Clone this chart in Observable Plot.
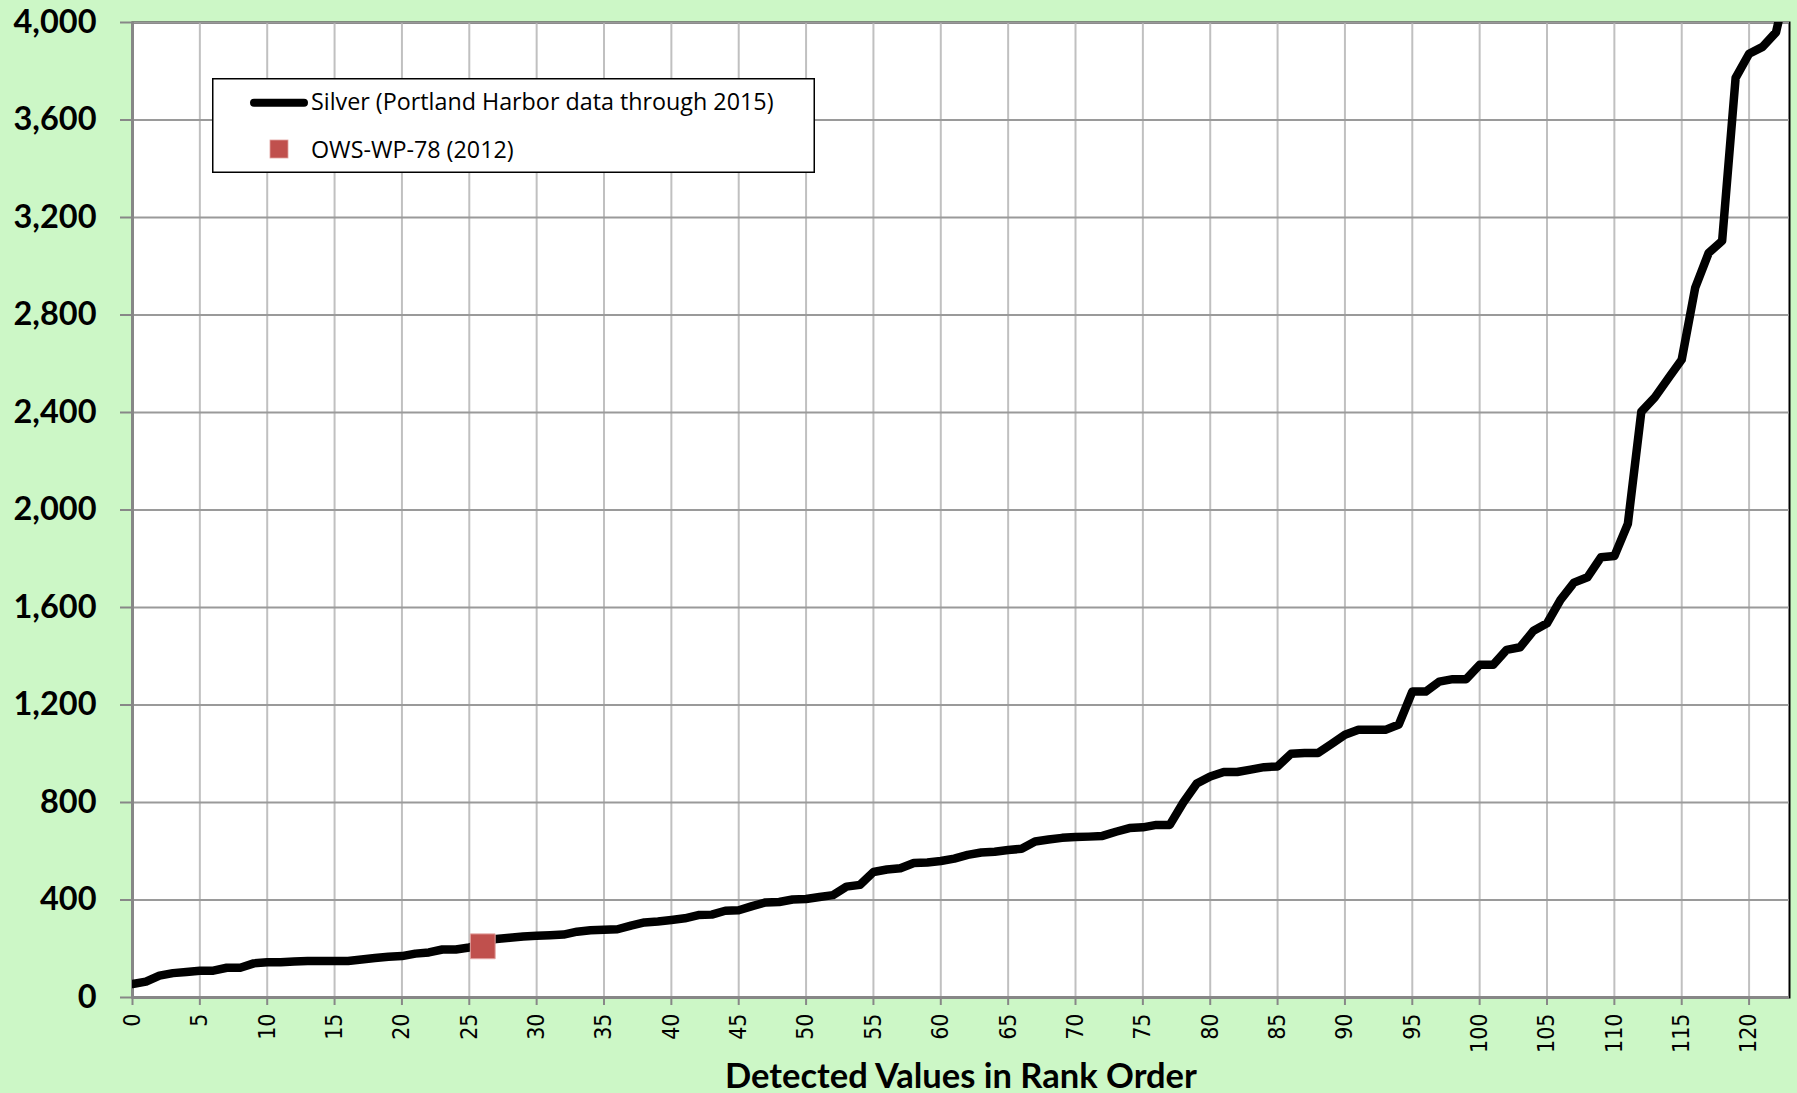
<!DOCTYPE html>
<html>
<head>
<meta charset="utf-8">
<script src="https://cdn.jsdelivr.net/npm/d3@7"></script>
<script src="https://cdn.jsdelivr.net/npm/@observablehq/plot@0.6"></script>
<style>
  html, body { margin: 0; padding: 0; background: #ccf7c6; }
  #wrap { position: relative; width: 1797px; height: 1093px; overflow: hidden; }
  #legend { position: absolute; left: 212px; top: 78px; }
</style>
</head>
<body>
<div id="wrap"></div>
<script>
// Silver concentrations, detected values in rank order (rank 0..123)
const silverValues = [
  55, 65, 90, 100, 105, 110, 110, 122, 122, 140,
  145, 145, 148, 150, 150, 150, 150, 156, 162, 167,
  170, 180, 185, 197, 197, 205, 225, 240, 245, 250,
  253, 255, 258, 270, 276, 278, 280, 295, 308, 312,
  318, 325, 338, 340, 356, 358, 375, 390, 392, 402,
  404, 412, 420, 455, 462, 515, 525, 530, 552, 554,
  560, 570, 585, 595, 598, 605, 610, 640, 648, 655,
  658, 660, 663, 680, 695, 698, 708, 708, 800, 878,
  907, 925, 925, 935, 945, 948, 1000, 1003, 1003, 1040,
  1078, 1098, 1098, 1098, 1120, 1255, 1255, 1296, 1306, 1306,
  1365, 1365, 1426, 1437, 1505, 1535, 1631, 1702, 1724, 1806,
  1811, 1943, 2403, 2462, 2540, 2617, 2912, 3055, 3104, 3773,
  3872, 3900, 3960, 4200
];
const markerRank = [26];
const markerValue = [210];
const xTicks = d3.range(0, 121, 5);
const yTicks = d3.range(0, 4001, 400);
const seriesNames = ["Silver (Portland Harbor data through 2015)", "OWS-WP-78 (2012)"];
const xTitle = "Detected Values in Rank Order";

const silver = silverValues.map((v, i) => ({rank: i, value: v}));
const marker = markerRank.map((r, i) => ({rank: r, value: markerValue[i]}));

const chart = Plot.plot({
  width: 1797,
  height: 1093,
  marginLeft: 132,
  marginRight: 8,
  marginTop: 22,
  marginBottom: 96,
  style: {background: "transparent", overflow: "visible"},
  x: {domain: [0, 123]},
  y: {domain: [0, 4000]},
  marks: [
    Plot.frame({fill: "white", stroke: "black", strokeWidth: 2}),
    Plot.gridX(xTicks, {stroke: "#c0c0c0", strokeWidth: 2, strokeOpacity: 1}),
    Plot.gridY(yTicks, {stroke: "#9a9a9a", strokeWidth: 2, strokeOpacity: 1}),
    Plot.ruleX([0], {stroke: "#878787", strokeWidth: 3}),
    Plot.ruleY([0], {stroke: "#878787", strokeWidth: 3}),
    Plot.axisY({
      ticks: yTicks, tickFormat: d3.format(","), tickSize: 12, tickPadding: 24,
      stroke: "#878787", strokeWidth: 2, fill: "black",
      fontSize: 32.5, fontWeight: "bold", fontFamily: "Lato", label: null
    }),
    Plot.axisX({
      ticks: xTicks, tickRotate: -90, tickSize: 8, tickPadding: 8,
      stroke: "#878787", strokeWidth: 2, fill: "black",
      fontSize: 23, fontFamily: "DejaVu Sans Condensed", label: null
    }),
    Plot.line(silver, {x: "rank", y: "value", stroke: "black", strokeWidth: 8.5,
      strokeLinejoin: "round", clip: true}),
    Plot.dot(marker, {x: "rank", y: "value", symbol: "square", r: 14,
      fill: "#C0504D", stroke: "#e2a19f", strokeWidth: 1}),
    Plot.text([xTitle], {text: d => d, frameAnchor: "bottom", dy: 90,
      fontSize: 34.5, fontWeight: "bold", fontFamily: "Lato", fill: "black"})
  ]
});

const wrap = document.getElementById("wrap");
wrap.appendChild(chart);

// Legend (inside the plot area, top-left)
const ns = "http://www.w3.org/2000/svg";
const leg = document.createElementNS(ns, "svg");
leg.setAttribute("id", "legend");
leg.setAttribute("width", 604);
leg.setAttribute("height", 95);
leg.innerHTML = `
  <rect x="0.75" y="0.75" width="601.5" height="93.5" fill="white" stroke="black" stroke-width="1.5"/>
  <line x1="42" y1="24.7" x2="92" y2="24.7" stroke="black" stroke-width="8" stroke-linecap="round"/>
  <rect x="58" y="62" width="18" height="18" fill="#C0504D" stroke="#e2a19f" stroke-width="0.8"/>
  <text x="99" y="31.5" font-family="Open Sans" font-size="23.3" fill="black">${seriesNames[0]}</text>
  <text x="99" y="79.5" font-family="Open Sans" font-size="23.3" fill="black">${seriesNames[1]}</text>
`;
wrap.appendChild(leg);
</script>
</body>
</html>
